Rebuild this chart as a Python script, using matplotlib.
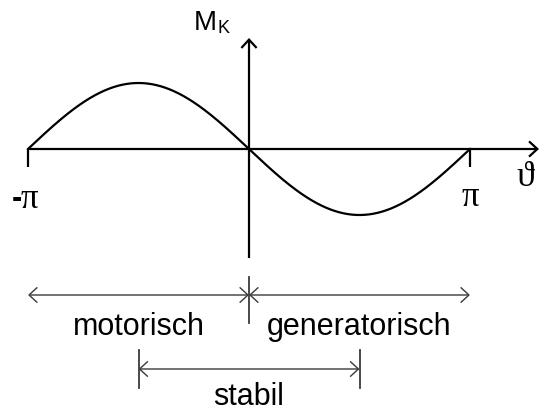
import numpy as np
import matplotlib
matplotlib.use("Agg")
import matplotlib.pyplot as plt
from matplotlib.patches import FancyArrowPatch

# Load angle and torque curve of a synchronous machine: M_K = -sin(theta)
theta = np.linspace(-np.pi, np.pi, 721)
torque = -np.sin(theta)

# Operating regions along the load angle
region_names = ["motorisch", "generatorisch", "stabil"]
region_start = [-np.pi, 0.0, -np.pi / 2]
region_end = [0.0, np.pi, np.pi / 2]

tick_positions = [-np.pi, np.pi]
tick_labels = ["-π", "π"]

W, H, DPI = 540, 412, 100
fig = plt.figure(figsize=(W / DPI, H / DPI), dpi=DPI)
ax = fig.add_axes([0, 0, 1, 1])
ax.set_axis_off()

# scale: pixels per radian and per unit torque
sx = 221 / np.pi
sy = 66.0
x0, y0 = 249, 149
ax.set_xlim(-x0 / sx, (W - x0) / sx)
ax.set_ylim(-(H - y0) / sy, y0 / sy)

sans = ["Liberation Sans", "DejaVu Sans"]
serif = ["Liberation Serif", "DejaVu Serif"]
black = "black"
grey = "#3a3a3a"


def arrow(p, q, style, color, lw):
    ax.add_patch(FancyArrowPatch(p, q, arrowstyle=style, mutation_scale=10,
                                 color=color, lw=lw, shrinkA=0, shrinkB=0,
                                 joinstyle="miter", capstyle="butt"))


head = "->,head_length=0.6,head_width=0.55"
headboth = "<->,head_length=0.6,head_width=0.55"

# axes with arrows
arrow((theta[0], 0), ((539 - x0) / sx, 0), head, black, 1.6)
arrow((0, -(258 - y0) / sy), (0, (y0 - 38) / sy), head, black, 1.6)

# ticks at -pi and pi
for tp, tl in zip(tick_positions, tick_labels):
    ax.plot([tp, tp], [0, -18 / sy], color=black, lw=1.6, solid_capstyle="butt")
    sign, sym = ("-", tl[1:]) if tl.startswith("-") else ("", tl)
    if sign:
        ax.text(tp - 6 / sx, -50 / sy, sign, family=sans, fontsize=22,
                fontweight="bold", ha="right", va="center")
        ax.text(tp - 7 / sx, -50 / sy, sym, family=serif, fontsize=25,
                ha="left", va="center")
    else:
        ax.text(tp, -48 / sy, sym, family=serif, fontsize=25, ha="center",
                va="center")

# torque curve
ax.plot(theta, torque, color=black, lw=1.6)

# axis titles
ax.text(-32 / sx, (y0 - 30) / sy, "M", family=sans, fontsize=20,
        ha="right", va="baseline")
ax.text(-32 / sx, (y0 - 33) / sy, "K", family=sans, fontsize=13,
        ha="left", va="baseline")
ax.text((525 - x0) / sx, (y0 - 177) / sy, "ϑ", family=serif, fontsize=26,
        ha="center", va="center")

# operating region spans
span_y = [-(295 - y0) / sy, -(295 - y0) / sy, -(369 - y0) / sy]
label_y = [-(335 - y0) / sy, -(335 - y0) / sy, -(405 - y0) / sy]
for name, a, b, yy, ly in zip(region_names, region_start, region_end,
                              span_y, label_y):
    arrow((a, yy), (b, yy), headboth, grey, 1.0)
    ax.text((a + b) / 2, ly, name, family=sans, fontsize=22, ha="center",
            va="baseline", color=black)

# boundary marks of the spans
ax.plot([0, 0], [-(277 - y0) / sy, -(323 - y0) / sy], color=grey, lw=1.3)
for bnd in (region_start[2], region_end[2]):
    ax.plot([bnd, bnd], [-(350 - y0) / sy, -(388 - y0) / sy], color=grey,
            lw=1.3)

fig.savefig("out.png", dpi=DPI)
